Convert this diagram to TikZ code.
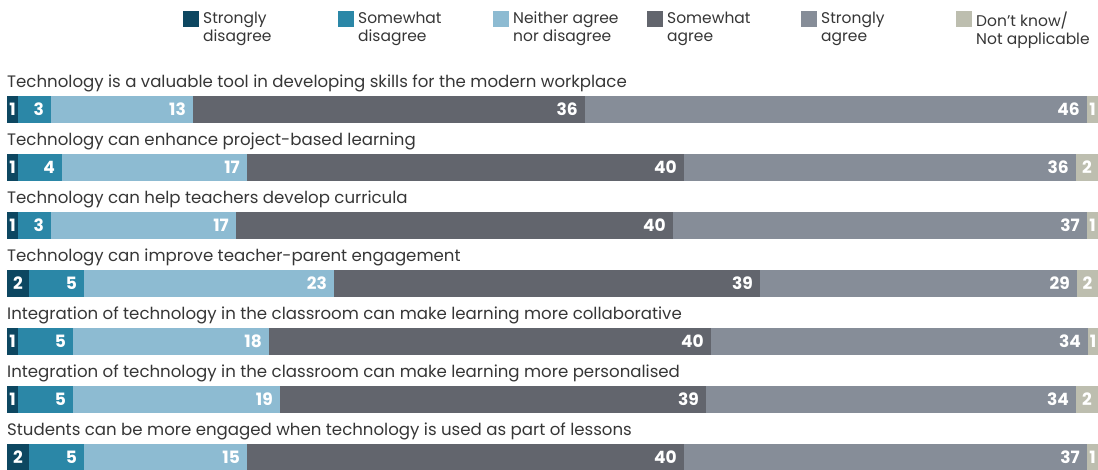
\documentclass[tikz,border=0pt]{standalone}
\usepackage{fontspec}
\setmainfont{Poppins}
\definecolor{csd}{HTML}{0D4761}
\definecolor{cwd}{HTML}{2B87A7}
\definecolor{cne}{HTML}{8DBBD2}
\definecolor{cwa}{HTML}{62656D}
\definecolor{csa}{HTML}{868D98}
\definecolor{cdk}{HTML}{BDBEAF}
\definecolor{ctxt}{HTML}{363636}
\tikzset{
  segbox/.style={rectangle, draw=none, inner sep=0pt, outer sep=0pt, minimum height=27pt, anchor=north west},
  numlbl/.style={inner sep=0pt, text=white, font=\fontsize{17}{17}\selectfont\bfseries},
  qtitle/.style={inner sep=0pt, anchor=base west, text=ctxt, font=\fontsize{16.6}{18}\selectfont},
  legsq/.style={rectangle, inner sep=0pt, minimum size=16pt, anchor=north west},
  legtxt/.style={inner sep=0pt, anchor=north west, align=left, text=ctxt, font=\fontsize{15.5}{18.3}\selectfont}
}
\newcommand\seg[6]{%
  \node[segbox, fill=#5, minimum width={(#4-#3)*1pt}] (#1) at (#3,#2) {};
  \pgfmathsetmacro\segw{#4-#3}%
  \ifdim\segw pt<25pt
    \node[numlbl] (#1l) at (#1.center) {#6};
  \else
    \node[numlbl, anchor=east] (#1l) at ([xshift=-7pt]#1.east) {#6};
  \fi}
\newcommand\qbar[7]{% name, top, x1..x5 boundaries
  \def\qn{#1}\def\qy{#2}%
  \def\qa{#3}\def\qb{#4}\def\qc{#5}\def\qd{#6}\def\qe{#7}}
\newcommand\qlabels[7]{% title, six labels
  \node[qtitle] (\qn t) at (7,\qy-8.5) {#1};
  \seg{\qn a}{\qy}{7}{\qa}{csd}{#2}
  \seg{\qn b}{\qy}{\qa}{\qb}{cwd}{#3}
  \seg{\qn c}{\qy}{\qb}{\qc}{cne}{#4}
  \seg{\qn d}{\qy}{\qc}{\qd}{cwa}{#5}
  \seg{\qn e}{\qy}{\qd}{\qe}{csa}{#6}
  \seg{\qn f}{\qy}{\qe}{1098}{cdk}{#7}}
\begin{document}
\begin{tikzpicture}[x=1pt,y=-1pt]
\useasboundingbox (0,0) rectangle (1098,470);
% legend
\foreach \i/\x/\c/\t in {1/183/csd/{Strongly\\disagree},2/338/cwd/{Somewhat\\disagree},3/493/cne/{Neither agree\\nor disagree},4/647/cwa/{Somewhat\\agree},5/801/csa/{Strongly\\agree},6/956/cdk/{Don’t know/\\Not applicable}}{
  \node[legsq, fill=\c] (lg\i) at (\x,11) {};
  \node[legtxt] (lt\i) at (\x+20,11.5) {\t};
}
\qbar{q1}{96}{18}{51}{193}{585}{1087}
\qlabels{Technology is a valuable tool in developing skills for the modern workplace}{1}{3}{13}{36}{46}{1}
\qbar{q2}{154}{18}{62}{247}{684}{1076}
\qlabels{Technology can enhance project-based learning}{1}{4}{17}{40}{36}{2}
\qbar{q3}{212}{18}{51}{236}{673}{1087}
\qlabels{Technology can help teachers develop curricula}{1}{3}{17}{40}{37}{1}
\qbar{q4}{270}{29}{84}{334}{760}{1077}
\qlabels{Technology can improve teacher-parent engagement}{2}{5}{23}{39}{29}{2}
\qbar{q5}{328}{18}{73}{269}{711}{1088}
\qlabels{Integration of technology in the classroom can make learning more collaborative}{1}{5}{18}{40}{34}{1}
\qbar{q6}{386}{18}{73}{280}{706}{1076}
\qlabels{Integration of technology in the classroom can make learning more personalised}{1}{5}{19}{39}{34}{2}
\qbar{q7}{444}{29}{84}{247}{684}{1087}
\qlabels{Students can be more engaged when technology is used as part of lessons}{2}{5}{15}{40}{37}{1}
\end{tikzpicture}
\end{document}
